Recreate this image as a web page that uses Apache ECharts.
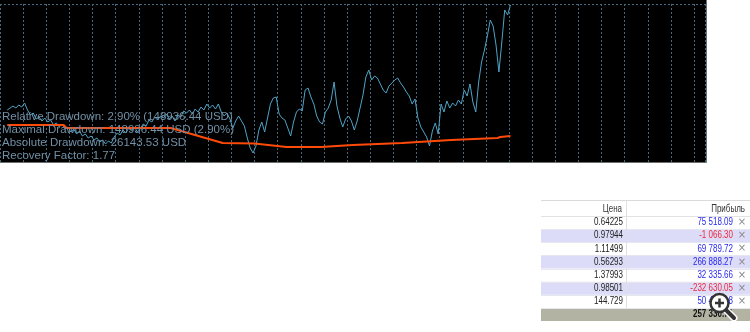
<!DOCTYPE html>
<html><head><meta charset="utf-8">
<script src="https://cdn.jsdelivr.net/npm/echarts@6/dist/echarts.min.js"></script>
<style>html,body{margin:0;padding:0;background:#fff}#c{width:750px;height:332px}</style>
</head><body><div id="c"></div>
<script>
// ---- data ----
// equity (thousand USD), one value per trade starting at trade 2.5
const equityStartTrade = 2.5;
const equity = [
4844,4848,4852,4848,4854,4850,4858,4844,4834,4838,
4826,4830,4822,4828,4820,4824,4814,4818,4810,4816,
4806,4810,4800,4806,4796,4802,4792,4796,4788,4792,
4784,4788,4780,4784,4776,4782,4778,4790,4798,4794,
4804,4798,4808,4802,4810,4800,4806,4816,4812,4824,
4820,4830,4824,4832,4828,4836,4826,4832,4822,4834,
4830,4842,4838,4844,4836,4846,4840,4850,4844,4856,
4848,4854,4846,4856,4840,4832,4838,4826,4808,4822,
4832,4822,4812,4788,4768,4758,4772,4804,4820,4800,
4828,4856,4868,4870,4836,4828,4824,4808,4792,4820,
4840,4846,4842,4884,4888,4870,4856,4832,4820,4816,
4840,4848,4864,4900,4852,4828,4810,4826,4832,4822,
4804,4822,4848,4874,4910,4924,4904,4912,4908,4896,
4884,4878,4892,4898,4904,4908,4898,4890,4880,4872,
4856,4866,4828,4810,4800,4790,4772,4802,4818,4796,
4856,4840,4862,4848,4858,4852,4864,4856,4884,4872,
4896,4860,4840,4900,4940,4964,4992,5024,5012,4974,
4920,4980,5044,5034,5054
];
const balanceTrades = [2.5, 22, 23, 59, 77, 88, 99, 111, 122, 139, 156, 172, 173, 176.5];
const balanceValues = [4814, 4814, 4808, 4808, 4778, 4777, 4770, 4770, 4774, 4778, 4784, 4788, 4790, 4792];
const statLines = [
  'Relative Drawdown: 2.90% (148936.44 USD)',
  'Maximal Drawdown: 148936.44 USD (2.90%)',
  'Absolute Drawdown: 26143.53 USD',
  'Recovery Factor: 1.77'
];
const tableHeaders = ['Цена', 'Прибыль'];
const prices = ['0.64225', '0.97944', '1.11499', '0.56293', '1.37993', '0.98501', '144.729'];
const profits = [75518.09, -1066.30, 69789.72, 266888.27, 32335.66, -232630.05, 50412.18];
const totalProfit = 257330.71;

// ---- helpers ----
function fmt(n) {
  const s = Math.abs(n).toFixed(2).split('.');
  return (n < 0 ? '-' : '') + s[0].replace(/\B(?=(\d{3})+(?!\d))/g, ' ') + '.' + s[1];
}

const chart = echarts.init(document.getElementById('c'), null, {renderer: 'canvas'});
const dotted = {color: '#46697f', type: [2, 2], width: 1};

const g = [];
// black plot background
g.push({type: 'rect', z: -100, shape: {x: 0, y: 0, width: 706, height: 162}, style: {fill: '#000'}});
// border
g.push({type: 'polyline', z: 50, shape: {points: [[706.5, 0], [706.5, 162.5], [0, 162.5]]}, style: {stroke: '#6e6e6e', lineWidth: 1, fill: null}});
// stats text
statLines.forEach((t, k) => {
  g.push({type: 'text', z: 60, x: 2, y: 116.5 + 13 * k,
    style: {text: t, fill: '#7290a6', font: '11.5px "Liberation Sans", Arial, sans-serif', verticalAlign: 'middle'}});
});
// table
const tL = 541, tR = 750, tTop = 200, headH = 16, rowH = 13.14, colDiv = 626;
const tableFont = '10px "Liberation Sans", sans-serif';
const sx = 0.8;
g.push({type: 'rect', z: 10, shape: {x: tL, y: tTop, width: tR - tL, height: headH + rowH * prices.length}, style: {fill: '#fff'}});
g.push({type: 'line', z: 12, shape: {x1: tL, y1: tTop + 0.5, x2: tR, y2: tTop + 0.5}, style: {stroke: '#dadada'}});
g.push({type: 'line', z: 12, shape: {x1: tL, y1: tTop + headH + 0.5, x2: tR, y2: tTop + headH + 0.5}, style: {stroke: '#e2e2e2'}});
g.push({type: 'text', z: 13, x: 622, y: tTop + 9, scaleX: sx, style: {text: tableHeaders[0], fill: '#333', font: tableFont, align: 'right', verticalAlign: 'middle'}});
g.push({type: 'text', z: 13, x: 745, y: tTop + 9, scaleX: sx, style: {text: tableHeaders[1], fill: '#333', font: tableFont, align: 'right', verticalAlign: 'middle'}});
prices.forEach((p, k) => {
  const y0 = tTop + headH + rowH * k;
  if (k % 2 === 1) g.push({type: 'rect', z: 11, shape: {x: tL, y: y0, width: tR - tL, height: rowH}, style: {fill: '#dcdcf8'}});
  g.push({type: 'line', z: 12, shape: {x1: tL, y1: Math.round(y0 + rowH) + 0.5, x2: tR, y2: Math.round(y0 + rowH) + 0.5}, style: {stroke: '#e6e6ee'}});
  g.push({type: 'text', z: 13, x: 623, y: y0 + rowH / 2, scaleX: sx, style: {text: p, fill: '#222', font: tableFont, align: 'right', verticalAlign: 'middle'}});
  const v = profits[k];
  g.push({type: 'text', z: 13, x: 733, y: y0 + rowH / 2, scaleX: sx, style: {text: fmt(v), fill: v < 0 ? '#f0283c' : '#2828ee', font: tableFont, align: 'right', verticalAlign: 'middle'}});
  g.push({type: 'text', z: 13, x: 742, y: y0 + rowH / 2, style: {text: '×', fill: '#8a8a8a', font: '10px "DejaVu Sans", sans-serif', align: 'center', verticalAlign: 'middle'}});
});
g.push({type: 'line', z: 12, shape: {x1: colDiv + 0.5, y1: tTop, x2: colDiv + 0.5, y2: tTop + headH + rowH * prices.length}, style: {stroke: '#e0e0e0'}});
const totTop = tTop + headH + rowH * prices.length;
g.push({type: 'rect', z: 11, shape: {x: tL, y: totTop, width: tR - tL, height: 13}, style: {fill: '#b3b3a3'}});
g.push({type: 'text', z: 13, x: 733, y: totTop + 6.5, scaleX: sx, style: {text: fmt(totalProfit), fill: '#111', font: 'bold ' + tableFont, align: 'right', verticalAlign: 'middle'}});
// magnifier overlay icon
g.push({type: 'line', z: 20, shape: {x1: 725, y1: 309, x2: 734, y2: 318}, style: {stroke: '#fff', lineWidth: 7, lineCap: 'round'}});
g.push({type: 'line', z: 21, shape: {x1: 725, y1: 309, x2: 734, y2: 318}, style: {stroke: '#333', lineWidth: 4, lineCap: 'round'}});
g.push({type: 'circle', z: 22, shape: {cx: 719.5, cy: 303, r: 9}, style: {fill: '#fff', stroke: '#333', lineWidth: 2.5}});
g.push({type: 'line', z: 23, shape: {x1: 715, y1: 303, x2: 724, y2: 303}, style: {stroke: '#333', lineWidth: 2.5}});
g.push({type: 'line', z: 23, shape: {x1: 719.5, y1: 298.5, x2: 719.5, y2: 307.5}, style: {stroke: '#333', lineWidth: 2.5}});

chart.setOption({
  backgroundColor: '#fff',
  animation: false,
  grid: {left: -7.38, top: 4, width: 713.1, height: 158},
  xAxis: {type: 'value', min: 0, max: 244, interval: 8,
    axisLine: {show: false}, axisTick: {show: false}, axisLabel: {show: false},
    splitLine: {show: true, lineStyle: dotted}},
  yAxis: {type: 'value', min: 4740, max: 5056, interval: 316,
    axisLine: {show: false}, axisTick: {show: false}, axisLabel: {show: false},
    splitLine: {show: true, lineStyle: dotted}},
  series: [
    {type: 'line', name: 'Balance', showSymbol: false, z: 3,
      data: balanceTrades.map((t, i) => [t, balanceValues[i]]),
      lineStyle: {color: '#ff4a0a', width: 2}},
    {type: 'line', name: 'Equity', showSymbol: false, z: 2,
      data: equity.map((v, i) => [equityStartTrade + i, v]),
      lineStyle: {color: '#4fa3c7', width: 1}}
  ],
  graphic: g
});
</script>
</body></html>
